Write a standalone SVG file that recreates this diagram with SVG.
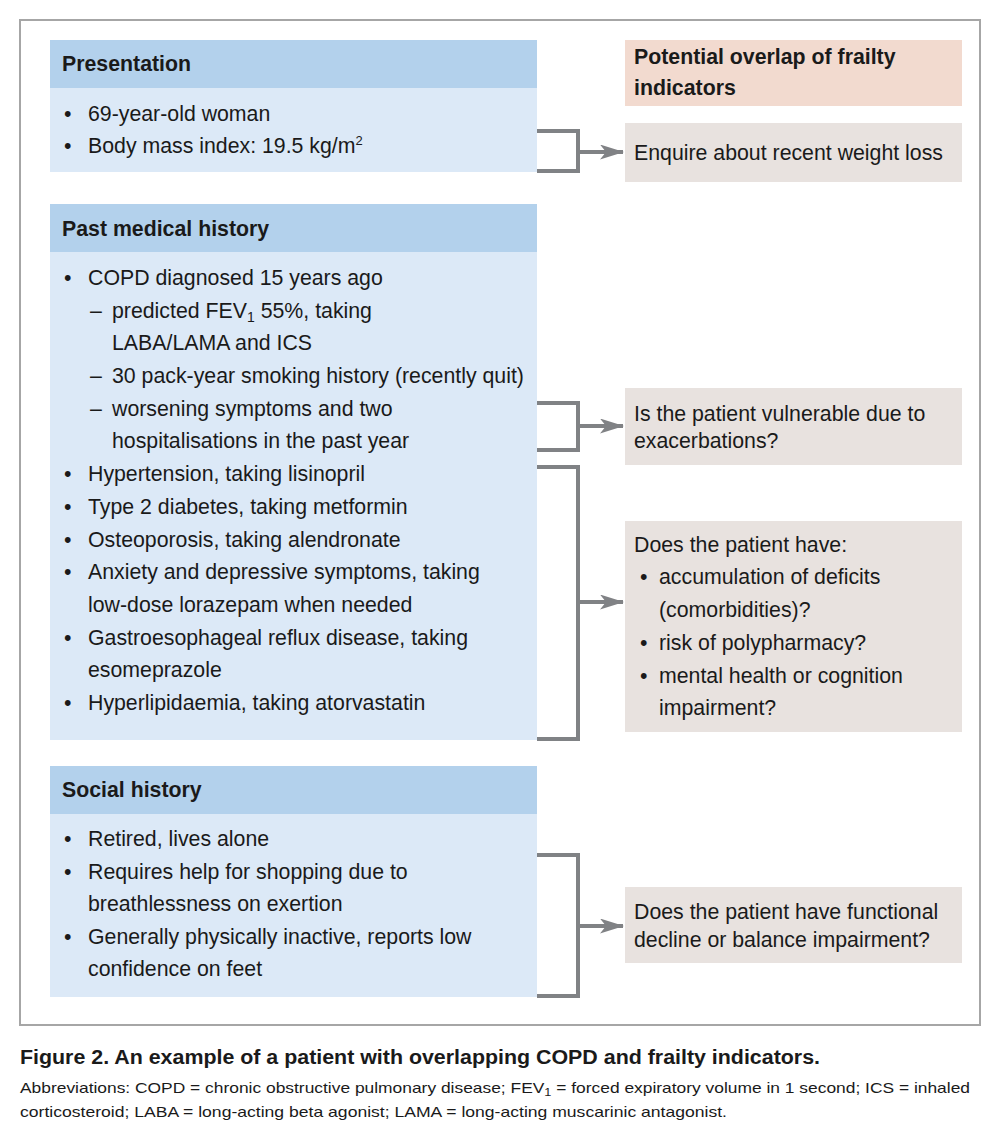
<svg xmlns="http://www.w3.org/2000/svg" width="1000" height="1145" viewBox="0 0 1000 1145">
<defs>
<style>
.t{font-family:"Liberation Sans",Arial,sans-serif;font-size:21.3px;fill:#1a1a1a}
.b{font-weight:bold}
.hd{fill:#b3d1ec}
.bd{fill:#dce9f7}
.gr{fill:#e8e2df}
.pk{fill:#f2dacf}
.br{fill:none;stroke:#808285;stroke-width:4}
.cap{font-family:"Liberation Sans",Arial,sans-serif;fill:#1a1a1a}
</style>
<marker id="ah" markerWidth="24" markerHeight="15" viewBox="0 0 24 15" refX="23" refY="7.5" orient="auto" markerUnits="userSpaceOnUse">
<path d="M0,0 L24,7.5 L0,15 L6,7.5 Z" fill="#808285"/>
</marker>
</defs>
<rect x="20" y="20" width="960" height="1005" fill="#fff" stroke="#a6a6a6" stroke-width="2"/>

<g id="presentation">
<rect class="hd" x="50" y="40" width="487" height="48"/>
<rect class="bd" x="50" y="88" width="487" height="84"/>
<text class="t b" x="62" y="71">Presentation</text>
<text class="t" x="64" y="121">•</text><text class="t" x="88" y="121">69-year-old woman</text>
<text class="t" x="64" y="153">•</text><text class="t" x="88" y="153">Body mass index: 19.5 kg/m<tspan font-size="13" dy="-8">2</tspan></text>
</g>

<g id="past-medical-history">
<rect class="hd" x="50" y="204" width="487" height="48"/>
<rect class="bd" x="50" y="252" width="487" height="488"/>
<text class="t b" x="62" y="236">Past medical history</text>
<text class="t" x="64" y="285">•</text><text class="t" x="88" y="285">COPD diagnosed 15 years ago</text>
<text class="t" x="90" y="318">–</text><text class="t" x="112" y="318">predicted FEV<tspan font-size="14" dy="4">1</tspan><tspan dy="-4"> 55%, taking</tspan></text>
<text class="t" x="112" y="350">LABA/LAMA and ICS</text>
<text class="t" x="90" y="383">–</text><text class="t" x="112" y="383">30 pack-year smoking history (recently quit)</text>
<text class="t" x="90" y="416">–</text><text class="t" x="112" y="416">worsening symptoms and two</text>
<text class="t" x="112" y="448">hospitalisations in the past year</text>
<text class="t" x="64" y="481">•</text><text class="t" x="88" y="481">Hypertension, taking lisinopril</text>
<text class="t" x="64" y="514">•</text><text class="t" x="88" y="514">Type 2 diabetes, taking metformin</text>
<text class="t" x="64" y="547">•</text><text class="t" x="88" y="547">Osteoporosis, taking alendronate</text>
<text class="t" x="64" y="579">•</text><text class="t" x="88" y="579">Anxiety and depressive symptoms, taking</text>
<text class="t" x="88" y="612">low-dose lorazepam when needed</text>
<text class="t" x="64" y="645">•</text><text class="t" x="88" y="645">Gastroesophageal reflux disease, taking</text>
<text class="t" x="88" y="677">esomeprazole</text>
<text class="t" x="64" y="710">•</text><text class="t" x="88" y="710">Hyperlipidaemia, taking atorvastatin</text>
</g>

<g id="social-history">
<rect class="hd" x="50" y="766" width="487" height="48"/>
<rect class="bd" x="50" y="814" width="487" height="183"/>
<text class="t b" x="62" y="797">Social history</text>
<text class="t" x="64" y="846">•</text><text class="t" x="88" y="846">Retired, lives alone</text>
<text class="t" x="64" y="879">•</text><text class="t" x="88" y="879">Requires help for shopping due to</text>
<text class="t" x="88" y="911">breathlessness on exertion</text>
<text class="t" x="64" y="944">•</text><text class="t" x="88" y="944">Generally physically inactive, reports low</text>
<text class="t" x="88" y="976">confidence on feet</text>
</g>

<g id="frailty-header">
<rect class="pk" x="625" y="40" width="337" height="66"/>
<text class="t b" x="634" y="64">Potential overlap of frailty</text>
<text class="t b" x="634" y="95">indicators</text>
</g>

<g id="weight-loss">
<rect class="gr" x="625" y="123" width="337" height="59"/>
<text class="t" x="634" y="160">Enquire about recent weight loss</text>
</g>

<g id="exacerbations">
<rect class="gr" x="625" y="388" width="337" height="77"/>
<text class="t" x="634" y="421">Is the patient vulnerable due to</text>
<text class="t" x="634" y="448">exacerbations?</text>
</g>

<g id="deficits">
<rect class="gr" x="625" y="521" width="337" height="211"/>
<text class="t" x="634" y="552">Does the patient have:</text>
<text class="t" x="640" y="584">•</text><text class="t" x="659" y="584">accumulation of deficits</text>
<text class="t" x="659" y="617">(comorbidities)?</text>
<text class="t" x="640" y="650">•</text><text class="t" x="659" y="650">risk of polypharmacy?</text>
<text class="t" x="640" y="683">•</text><text class="t" x="659" y="683">mental health or cognition</text>
<text class="t" x="659" y="715">impairment?</text>
</g>

<g id="functional-decline">
<rect class="gr" x="625" y="887" width="337" height="76"/>
<text class="t" x="634" y="919">Does the patient have functional</text>
<text class="t" x="634" y="947">decline or balance impairment?</text>
</g>

<g id="connectors">
<path class="br" d="M537,131 H578 V171 H537"/>
<line class="br" x1="578" y1="152" x2="623" y2="152" marker-end="url(#ah)"/>
<path class="br" d="M537,403 H578 V450 H537"/>
<line class="br" x1="578" y1="426" x2="623" y2="426" marker-end="url(#ah)"/>
<path class="br" d="M537,467 H578 V739 H537"/>
<line class="br" x1="578" y1="602" x2="623" y2="602" marker-end="url(#ah)"/>
<path class="br" d="M537,855 H578 V996 H537"/>
<line class="br" x1="578" y1="926" x2="623" y2="926" marker-end="url(#ah)"/>
</g>

<g id="caption">
<text class="cap b" x="20" y="1064" font-size="20" textLength="800" lengthAdjust="spacingAndGlyphs">Figure 2. An example of a patient with overlapping COPD and frailty indicators.</text>
<text class="cap" x="20" y="1093" font-size="15" textLength="950" lengthAdjust="spacingAndGlyphs">Abbreviations: COPD = chronic obstructive pulmonary disease; FEV<tspan font-size="11" dy="3">1</tspan><tspan dy="-3"> = forced expiratory volume in 1 second; ICS = inhaled</tspan></text>
<text class="cap" x="20" y="1117" font-size="15" textLength="707" lengthAdjust="spacingAndGlyphs">corticosteroid; LABA = long-acting beta agonist; LAMA = long-acting muscarinic antagonist.</text>
</g>
</svg>
